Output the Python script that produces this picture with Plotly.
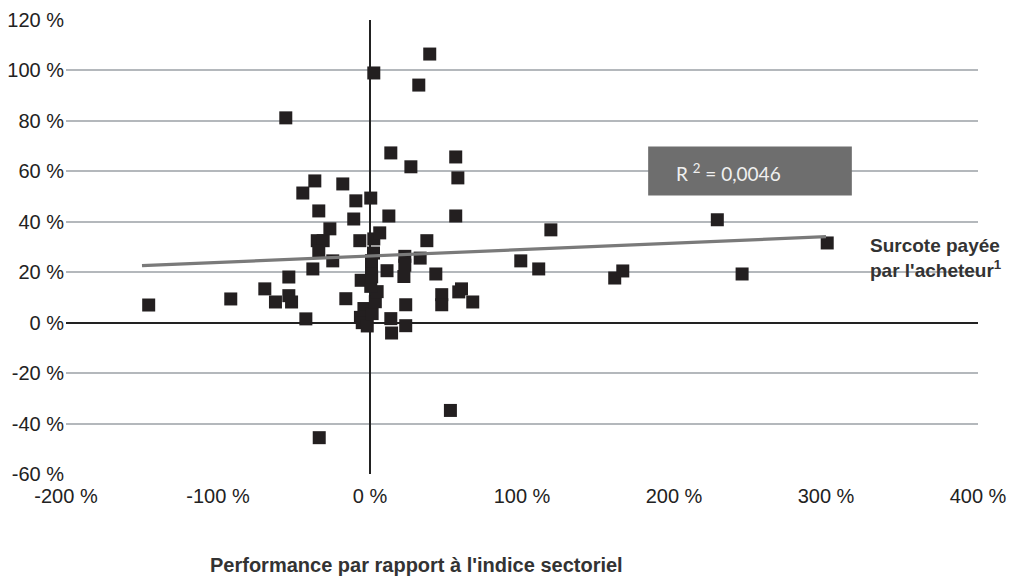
import plotly.graph_objects as go

# Performance relative to sector index (%) and premium paid (%)
perf = [-145.6, -91.6, -69.2, -62.2, -53.4, -51.6, -53.4, -55.4, -42.2, -44.2,
        -36.3, -33.7, -37.6, -34.7, -30.8, -33.7, -26.4, -24.5, -17.9, -15.9,
        -10.7, -9.3, -6.7, -5.8, -4.0, -6.3, -5.1, -1.8, 1.4, 3.5,
        4.7, 0.5, 1.1, 1.0, 1.0, 2.3, 2.5, 0.5, 2.5, 6.4,
        11.2, 12.4, 13.7, 13.7, 14.2, 22.9, 22.9, 22.3, 23.5, 23.5,
        26.9, 32.1, 33.0, 37.4, 39.3, 43.3, 47.2, 47.2, 52.9, 56.4,
        56.4, 57.8, 58.4, 60.2, 67.6, 99.2, 111.0, 119.0, 161.0, 166.3,
        228.5, 244.8, 300.8, -33.4]
premium = [7.0, 9.4, 13.4, 8.2, 10.7, 8.2, 18.1, 81.2, 1.5, 51.4,
           56.2, 44.3, 21.3, 32.5, 32.5, 28.3, 37.2, 24.5, 55.0, 9.5,
           41.1, 48.3, 32.5, 16.8, 5.6, 2.1, 0.0, -1.3, 3.6, 8.3,
           12.3, 14.4, 18.2, 21.5, 24.6, 27.6, 33.2, 49.4, 99.0, 35.6,
           20.6, 42.3, 67.3, 1.6, -4.1, 26.3, 22.8, 18.3, 7.1, -1.2,
           61.8, 94.2, 25.6, 32.5, 106.5, 19.3, 11.1, 7.1, -34.8, 65.7,
           42.3, 57.4, 12.2, 13.4, 8.2, 24.5, 21.3, 36.8, 17.7, 20.5,
           40.8, 19.3, 31.6, -45.6]

# Linear trend line endpoints
trend_x = [-150, 300]
trend_y = [22.6, 34.1]

x_ticks = [-200, -100, 0, 100, 200, 300, 400]
x_labels = ["-200 %", "-100 %", "0 %", "100 %", "200 %", "300 %", "400 %"]
y_ticks = [-60, -40, -20, 0, 20, 40, 60, 80, 100, 120]
y_labels = ["-60 %", "-40 %", "-20 %", "0 %", "20 %", "40 %", "60 %", "80 %", "100 %", "120 %"]

FONT = "Arial"

fig = go.Figure()
fig.add_trace(go.Scatter(
    x=perf, y=premium, mode="markers",
    marker=dict(symbol="square", size=13, color="#231f20", line=dict(width=0)),
    showlegend=False, hoverinfo="x+y"))
fig.add_trace(go.Scatter(
    x=trend_x, y=trend_y, mode="lines",
    line=dict(color="#7a7a7a", width=3.2), showlegend=False))

fig.add_shape(type="rect", xref="x", yref="y", x0=183, x1=317, y0=50.4, y1=69.8,
              fillcolor="#6e6e6e", line=dict(width=0), layer="above")
fig.add_annotation(xref="x", yref="y", x=200, y=59.5, xanchor="left", yanchor="middle",
                   text="R <sup>2</sup> = 0,0046", showarrow=False,
                   font=dict(family="Lato", size=19, color="#f0f0f0"))

fig.add_annotation(xref="paper", yref="paper", x=0.879, y=0.476, xanchor="left", yanchor="middle",
                   align="left", showarrow=False,
                   text="<b>Surcote payée<br>par l'acheteur<sup>1</sup></b>",
                   font=dict(family=FONT, size=19, color="#333333"))

fig.add_annotation(xref="paper", yref="paper", x=0.384, y=-0.2, xanchor="center", yanchor="middle",
                   showarrow=False, text="<b>Performance par rapport à l'indice sectoriel</b>",
                   font=dict(family=FONT, size=20, color="#333333"))

fig.update_xaxes(range=[-200, 400], tickvals=x_ticks, ticktext=x_labels,
                 showgrid=False, zeroline=True, zerolinecolor="#222222", zerolinewidth=1.5,
                 showline=False, ticks="", ticklabelstandoff=8, automargin=False,
                 tickfont=dict(family=FONT, size=20, color="#222222"))
fig.update_yaxes(range=[-60, 120], tickvals=y_ticks, ticktext=y_labels,
                 showgrid=True, gridcolor="#b4b8bc", gridwidth=1.5,
                 zeroline=True, zerolinecolor="#222222", zerolinewidth=1.8,
                 showline=False, ticks="", ticklabelstandoff=1, automargin=False,
                 tickfont=dict(family=FONT, size=20, color="#222222"))

fig.update_layout(width=1010, height=576, margin=dict(l=66, r=32, t=20, b=102),
                  plot_bgcolor="white", paper_bgcolor="white", showlegend=False)

# remove the browser's default body margin so the figure fills the window exactly
fig.write_html("out.html", config={"displayModeBar": False},
               post_script="document.body.style.margin='0px';document.body.style.overflow='hidden';")
